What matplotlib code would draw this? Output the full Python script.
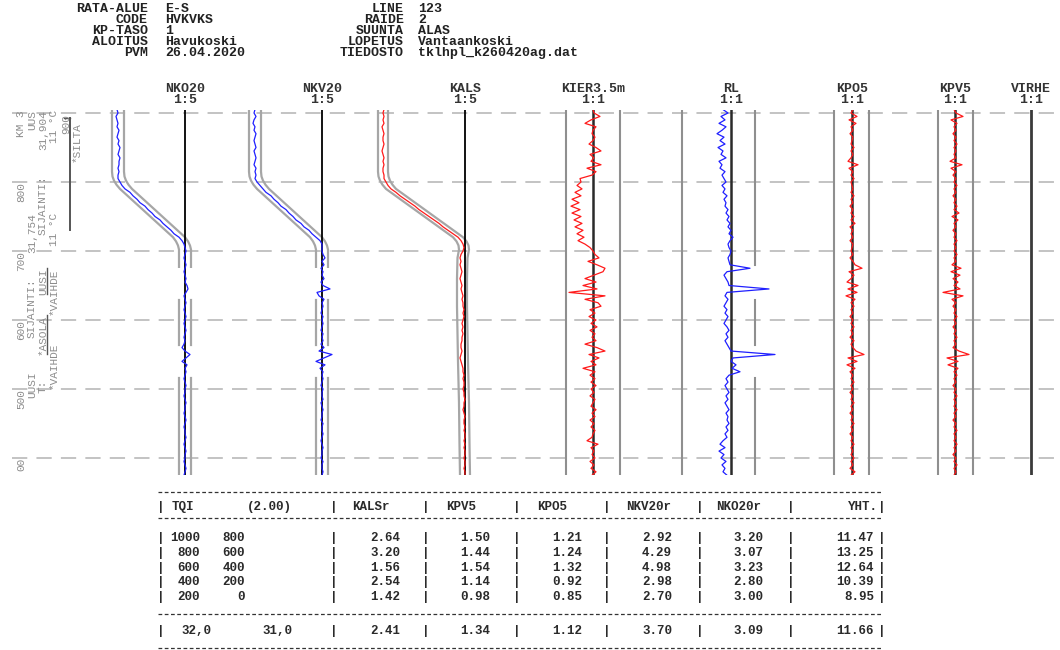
import matplotlib
matplotlib.use("Agg")
import matplotlib.pyplot as plt
import numpy as np

MONO = ["Liberation Mono", "DejaVu Sans Mono"]

# --- header block ---------------------------------------------------------
HEAD_LEFT_KEYS = ["RATA-ALUE", "CODE", "KP-TASO", "ALOITUS", "PVM"]
HEAD_LEFT_VALS = ["E-S", "HVKVKS", "1", "Havukoski", "26.04.2020"]
HEAD_RIGHT_KEYS = ["LINE", "RAIDE", "SUUNTA", "LOPETUS", "TIEDOSTO"]
HEAD_RIGHT_VALS = ["123", "2", "ALAS", "Vantaankoski", "tklhpl_k260420ag.dat"]

# --- distance axis (m), one sample every 5 m ------------------------------
DIST = np.arange(905, 374, -5)
GRID_KM = [900, 800, 700, 600, 500, 400]

COLUMNS = ["NKO20", "NKV20", "KALS", "KIER3.5m", "RL", "KPO5", "KPV5", "VIRHE"]
SCALES = ["1:5", "1:5", "1:5", "1:1", "1:1", "1:1", "1:1", "1:1"]

# design geometry (envelope centre) for the lateral columns
NK_DESIGN_D = [904, 815, 808, 802, 796, 790, 720, 714, 708, 702, 677]
NK_DESIGN = [-67, -67, -66.5, -65, -62.5, -59, -6, -3, -1, 0, 0]
NK_LOWER_SEGMENTS = [(629, 564), (516, 375)]
KALS_DESIGN_D = [904, 815, 808, 802, 796, 790, 720, 714, 708, 702, 690, 660, 620,
                 580, 540, 480, 420, 375]
KALS_DESIGN = [-82, -82, -81.5, -80, -77.5, -74, -7, -3.5, -1.5, -1, -2.5, -3, -3,
               -2.5, -2, -1, -0.5, 0]

# measured signals (mm at column scale)
NKO20 = [-68, -67, -69, -68, -67, -68, -66, -67, -68, -66, -67, -65, -66, -67, -65, -66,
         -66, -67, -66, -67, -67, -65,
         -63, -60, -55, -52, -48, -45, -40, -37, -33, -30, -25, -22, -18, -14, -11, -6,
         -3, -1, 0,
         1, 0, -1, 0, 1, 0, -1, 0, 1, 0, 2, 3, 1, -1, 0, 1, 0, -1, 0, 1,
         0, -1, 0, 1, 0, -1, 0, -1, -3, 0, 5, 1, -3, 2, 0, 1, 0, -1, 0, 1, 0,
         0, -1, 0, 1, 0, 0, -1, 0, 1, 0, -1, 0, 0, 1, 0, -1, 0, 1, 0, 0, -1, 0, 1, 0, -1]
NKV20 = [-67, -68, -66, -68, -69, -67, -68, -66, -67, -68, -67, -66, -68, -67, -66, -67,
         -68, -66, -67, -66, -67, -65,
         -62, -59, -56, -51, -48, -44, -41, -36, -33, -29, -26, -21, -18, -13, -10, -6,
         -2, 0, 0,
         0, 1, 3, 0, 2, -1, 1, 0, 2, -1, 1, 8, -5, -3, 2, 0, 1, 0, -1, 1,
         0, 1, 0, -1, 1, 0, 1, -1, 2, -3, 10, 2, -6, 3, -2, 1, 0, 1,
         0, -1, 1, 0, 0, 1, -1, 0, 1, 0, 0, -1, 1, 0, 0, 1, 0, -1, 0, 1, 0, 0, -1, 1,
         0, 0, 1, 0]
KALS = [-81, -82, -81, -82, -81, -83, -82, -81, -82, -82, -81, -82, -83, -82, -81, -82,
        -81, -82, -82, -81, -81, -79,
        -77, -74, -69, -65, -60, -55, -50, -46, -41, -36, -31, -26, -22, -17, -12, -7,
        -4, -2, -1,
        -2, -4, -5, -4, -5, -4, -3, -4, -5, -4, -3, -4, -3, -2, -3, -2, -2, -1, -2, -1,
        -2, -3, -2, -3, -2, -3, -3, -4, -4, -3, -4, -5, -4, -3, -2, -2, -1, -2, -1,
        -1, -2, -1, -1, 0, -1, -1, -2, -1, 0, -1, -1, 0, -1, 0, 0, -1, 0, -1, 0, 0, -1,
        0, 0, -1, 0, 0]
KIER = [0, 1, 7, -2, -8, 3, 0, -1, 2, 0, -4, 3, 8, -3, 1, -2, 8, -6, 3, -1,
        -13, -12, -16, -11, -18, -12, -21, -14, -22, -13, -21, -12, -19, -11, -18, -10,
        -16, -9, -15, -8,
        -3, 0, 2, 6, -5, 4, 12, 10, 1, -8, 3, -10, 4, -24, 12, -8, 5, 8, -3, 2,
        -4, 3, -2, 4, -3, 2, -1, 3, -8, 4, 12, -4, 6, -2, 3, -10, 2, -3, 2, -2,
        3, -2, 1, -3, 2, 0, -2, 3, -1, 2, -3, 1, -2, 2, 0, -1, -6, 5, -2, 1, -1, 2, -3,
        1, -2, 3, -1]
RL = [-8, -3, -10, -6, -12, -5, -9, -14, -7, -11, -6, -13, -8, -10, -5, -12, -9, -11,
      -6, -9, -7, -5, -9, -6, -8, -4, -7, -5, -6, -3, -5, -2, -4, -1, -3, 0, -2, 2, -1,
      -3, -2, 0, -1, -3, -2, -1, 19, -4, -7, -5, -3, -2, 38, -4, -6, -3, -5, -7, -4, -6,
      -3, -5, -7, -4, -2, -5, -3, -6, -4, -2, 0, 44, 2, 0, 5, 1, 9, -2, -5, -3,
      -6, -4, -2, -5, -3, -6, -4, -2, -5, -3, -4, -2, -5, -3, -6, -4, -8, -11, -6, -12,
      -7, -10, -5, -9, -6, -8, -4]
KPO5 = [1, -1, 5, -3, 4, -1, 1, -2, 1, 0, -1, 2, -1, 1, -1,
        -4, 6, -3, 1, -1, 2, -1, 0, 1, -1, 2, -1, 1, -2, 1,
        -1, 2, -1, 3, -2, 1, -1, 1, -2, 1, 0, -1, 1, -2, 1,
        3, 10, -3, 2, -1, -5, 6, -4, 5, -6, 3, -1, 2, -1, 1,
        -2, 1, -1, 2, -1, 1, -2, 2, -1, 1, 4, 12, -4, 5, -5,
        3, -2, 1, -1, 2, -1, 1, -2, 1, -1, 2, -1, 1, -2, 1,
        -1, 2, -1, 1, -2, 1, -1, 2, -1, 1, -1, 2, -1, 1, -2, 3, -1]
KPV5 = [-1, 1, 8, -4, 2, -1, 1, -2, 1, -1, 2, -1, 1, -1, 1,
        -5, 7, -4, 1, -2, 1, -1, 2, -1, 1, -2, 1, -1, 2, -1,
        4, -3, 3, -1, 1, -2, 1, -1, 2, -1, 1, -1, 2, -1, 1,
        -3, 6, -4, 5, -2, 3, -1, 5, -12, 8, -3, 1, -2, 1, -1,
        2, -1, 1, -2, 1, -1, 2, -1, 1, -2, 4, 14, -8, 3, -7,
        3, -1, 2, -1, 1, -2, 1, -1, 2, -1, 1, -1, 2, -1, 1,
        -2, 1, -1, 2, -1, 1, -1, 2, -1, 1, -2, 1, -1, 2, -1, 1, -1]

# --- TQI summary table ----------------------------------------------------
TQI_FROM = ["1000", "800", "600", "400", "200"]
TQI_TO = ["800", "600", "400", "200", "0"]
KALSR = [2.64, 3.20, 1.56, 2.54, 1.42]
KPV5R = [1.50, 1.44, 1.54, 1.14, 0.98]
KPO5R = [1.21, 1.24, 1.32, 0.92, 0.85]
NKV20R = [2.92, 4.29, 4.98, 2.98, 2.70]
NKO20R = [3.20, 3.07, 3.23, 2.80, 3.00]
YHT = [11.47, 13.25, 12.64, 10.39, 8.95]
TOTAL_KM = ["32,0", "31,0"]
TOTAL = [2.41, 1.34, 1.12, 3.70, 3.09, 11.66]
TABLE_HEAD = ["KALSr", "KPV5", "KPO5", "NKV20r", "NKO20r"]

# --- layout (pixels of the 1060x650 picture) ------------------------------
W, H = 1060, 650
Y_TOP, Y_BOT = 110, 475
D_TOP, D_BOT = 904.35, 375.36
CENTERS = [185, 322, 465, 593, 731, 852, 955, 1031]
BLUE, RED, GREY = "#1f1fff", "#ff1a1a", "#a6a6a6"


def col_rect(x0, x1):
    return [x0 / W, 1 - Y_BOT / H, (x1 - x0) / W, (Y_BOT - Y_TOP) / H]


fig = plt.figure(figsize=(W / 100, H / 100), dpi=100)
fig.patch.set_facecolor("white")

hd = fig.add_axes([0, 0, 1, 1])
hd.set_xlim(0, W)
hd.set_ylim(H, 0)
hd.axis("off")

txt = dict(family=MONO, fontsize=9.5, fontweight="bold", color="#222222", va="center")
for i, (k, v) in enumerate(zip(HEAD_LEFT_KEYS, HEAD_LEFT_VALS)):
    y = 9 + i * 11
    hd.text(148, y, k, ha="right", **txt)
    hd.text(165, y, v, ha="left", **txt)
for i, (k, v) in enumerate(zip(HEAD_RIGHT_KEYS, HEAD_RIGHT_VALS)):
    y = 9 + i * 11
    hd.text(404, y, k, ha="right", **txt)
    hd.text(418, y, v, ha="left", **txt)

colh = dict(txt, fontsize=9.5, color="#333333")
for name, sc, cx in zip(COLUMNS, SCALES, CENTERS):
    hd.text(cx, 89, name, ha="center", **colh)
    hd.text(cx, 100, sc, ha="center", **colh)

# background: grid and left annotations
bg = fig.add_axes(col_rect(0, W))
bg.set_xlim(0, W)
bg.set_ylim(D_BOT, D_TOP)
bg.axis("off")
for d in GRID_KM:
    bg.plot([12, W], [d, d], color="#b3b3b3", lw=1.1, ls=(0, (10, 6)), zorder=1)

lab = dict(family=MONO, fontsize=8, color="#8c8c8c", rotation=90, ha="center", va="top")
left_labels = [
    (21, 904, "KM 3"), (21, 800, "800"), (21, 700, "700"), (21, 600, "600"),
    (21, 500, "500"), (21, 400, "00"),
    (32, 904, "UUS"), (32, 755, "31,754"), (32, 661, "SIJAINTI:"), (32, 526, "UUSI"),
    (43, 904, "31,904"), (43, 810, "SIJAINTI:"), (43, 675, "UUSI"), (43, 607, "*ASOLA"),
    (43, 513, "T:"),
    (54, 904, "11 °C"), (54, 755, "11 °C"), (54, 674, "*VAIHDE"), (54, 567, "*VAIHDE"),
    (66, 899, "900"), (77, 886, "*SILTA"),
]
for x, d, s in left_labels:
    bg.text(x, d, s, **lab)
bg.plot([47, 47], [675, 637], color="#555555", lw=1.0)
bg.plot([47, 47], [607, 550], color="#555555", lw=1.0)
bg.plot([70, 70], [893, 730], color="#555555", lw=1.4)
bg.plot([64, 70], [893, 893], color="#555555", lw=1.0)

signals = {"NKO20": (NKO20, BLUE), "NKV20": (NKV20, BLUE), "KALS": (KALS, RED),
           "KIER3.5m": (KIER, RED), "RL": (RL, BLUE), "KPO5": (KPO5, RED),
           "KPV5": (KPV5, RED)}

for name, cx in zip(COLUMNS, CENTERS):
    ax = fig.add_axes(col_rect(cx - 100, cx + 100))
    ax.set_xlim(-100, 100)
    ax.set_ylim(D_BOT, D_TOP)
    ax.axis("off")
    if name in ("NKO20", "NKV20"):
        dz = np.array(NK_DESIGN)
        for hw in (-6, 6):
            ax.plot(dz + hw, NK_DESIGN_D, color=GREY, lw=1.6, zorder=2)
            for d0, d1 in NK_LOWER_SEGMENTS:
                ax.plot([hw, hw], [d0, d1], color=GREY, lw=1.6, zorder=2)
        ax.axvline(0, color="black", lw=1.3, zorder=3)
    elif name == "KALS":
        dz = np.array(KALS_DESIGN)
        for hw in (-5, 5):
            ax.plot(dz + hw, KALS_DESIGN_D, color=GREY, lw=1.6, zorder=2)
        ax.axvline(0, color="black", lw=1.3, zorder=3)
    elif name == "KIER3.5m":
        for b in (-27, 27):
            ax.axvline(b, color="#8f8f8f", lw=1.5)
        ax.axvline(0, color="#2a2a2a", lw=1.8, zorder=3)
    elif name == "RL":
        ax.axvline(-49, color="#8f8f8f", lw=1.5)
        for d0, d1 in [(904.35, 679)] + NK_LOWER_SEGMENTS:
            ax.plot([24, 24], [d0, d1], color="#8f8f8f", lw=1.5)
        ax.axvline(0, color="#2a2a2a", lw=1.8, zorder=3)
    elif name == "KPO5":
        for b in (-18, 17):
            ax.axvline(b, color="#8f8f8f", lw=1.5)
        ax.axvline(0, color="#2a2a2a", lw=1.8, zorder=3)
    elif name == "KPV5":
        for b in (-17, 18):
            ax.axvline(b, color="#8f8f8f", lw=1.5)
        ax.axvline(0, color="#2a2a2a", lw=1.8, zorder=3)
    else:
        ax.axvline(0, color="#3a3a3a", lw=2.0, zorder=3)
    if name in signals:
        vals, c = signals[name]
        ax.plot(vals, DIST, color=c, lw=0.9, zorder=4)

# TQI table
tb = dict(family=MONO, fontsize=9, fontweight="bold", color="#2a2a2a", va="center")
for y in (492, 518, 614, 648):
    hd.plot([158, 882], [y, y], color="#333333", lw=0.9, ls=(0, (3, 2)))
seps = [161, 334, 426, 517, 607, 700, 791, 882]
num_x = [400, 490, 582, 672, 763]
head_x = [352, 446, 537, 626, 716]
hy = 507
for sx in seps:
    hd.text(sx, hy, "|", ha="center", **tb)
hd.text(172, hy, "TQI", ha="left", **tb)
hd.text(292, hy, "(2.00)", ha="right", **tb)
for hx, h in zip(head_x, TABLE_HEAD):
    hd.text(hx, hy, h, ha="left", **tb)
hd.text(878, hy, "YHT.", ha="right", **tb)

cols = [KALSR, KPV5R, KPO5R, NKV20R, NKO20R]
for r in range(len(TQI_FROM)):
    y = 538 + r * 14.8
    for sx in seps:
        hd.text(sx, y, "|", ha="center", **tb)
    hd.text(200, y, TQI_FROM[r], ha="right", **tb)
    hd.text(245, y, TQI_TO[r], ha="right", **tb)
    for nx, col in zip(num_x, cols):
        hd.text(nx, y, f"{col[r]:.2f}", ha="right", **tb)
    hd.text(874, y, f"{YHT[r]:.2f}", ha="right", **tb)

ty = 631
for sx in seps:
    hd.text(sx, ty, "|", ha="center", **tb)
hd.text(211, ty, TOTAL_KM[0], ha="right", **tb)
hd.text(292, ty, TOTAL_KM[1], ha="right", **tb)
for nx, v in zip(num_x + [874], TOTAL):
    hd.text(nx, ty, f"{v:.2f}", ha="right", **tb)

fig.savefig("out.png", dpi=100, facecolor="white")
